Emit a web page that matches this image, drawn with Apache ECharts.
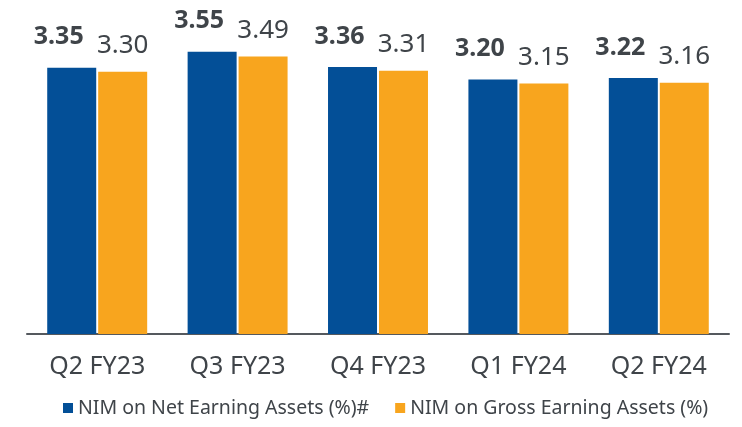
<!DOCTYPE html>
<html>
<head>
<meta charset="utf-8">
<script src="https://cdn.jsdelivr.net/npm/echarts@6/dist/echarts.min.js"></script>
<style>html,body{margin:0;padding:0;background:#fff;}#c{width:742px;height:427px;}</style>
</head>
<body>
<div id="c"></div>
<script>
const categories = ['Q2 FY23', 'Q3 FY23', 'Q4 FY23', 'Q1 FY24', 'Q2 FY24'];
const netNIM = [3.35, 3.55, 3.36, 3.20, 3.22];
const grossNIM = [3.30, 3.49, 3.31, 3.15, 3.16];
const seriesNames = ['NIM on Net Earning Assets (%)#', 'NIM on Gross Earning Assets (%)'];

const FONT = '"Noto Sans", "Open Sans", sans-serif';
const chart = echarts.init(document.getElementById('c'));
chart.setOption({
  animation: false,
  backgroundColor: '#ffffff',
  grid: { left: 27, right: 13, top: 16, bottom: 93, containLabel: false },
  legend: {
    data: seriesNames,
    bottom: 4,
    left: 58,
    itemWidth: 10,
    itemHeight: 10,
    itemGap: 26,
    icon: 'rect',
    textStyle: { fontFamily: FONT, fontSize: 19.5, color: '#3f4449' }
  },
  xAxis: {
    type: 'category',
    data: categories,
    axisLine: { show: true, lineStyle: { color: '#55595e', width: 2 } },
    axisTick: { show: false },
    axisLabel: { margin: 20, fontFamily: FONT, fontSize: 25, color: '#3f4449' }
  },
  yAxis: {
    type: 'value',
    min: 0,
    max: 4,
    show: false,
    splitLine: { show: false }
  },
  series: [
    {
      name: seriesNames[0],
      type: 'bar',
      data: netNIM,
      barWidth: 49,
      barGap: '4%',
      itemStyle: { color: '#034f97' },
      label: {
        show: true,
        position: 'top',
        distance: 18,
        offset: [-13, 0],
        formatter: p => p.value.toFixed(2),
        fontFamily: FONT,
        fontSize: 25,
        fontWeight: 'bold',
        color: '#3f4449'
      }
    },
    {
      name: seriesNames[1],
      type: 'bar',
      data: grossNIM,
      barWidth: 49,
      itemStyle: { color: '#f8a51e' },
      label: {
        show: true,
        position: 'top',
        distance: 13,
        formatter: p => p.value.toFixed(2),
        fontFamily: FONT,
        fontSize: 26,
        color: '#3f4449'
      }
    }
  ]
});
</script>
</body>
</html>
